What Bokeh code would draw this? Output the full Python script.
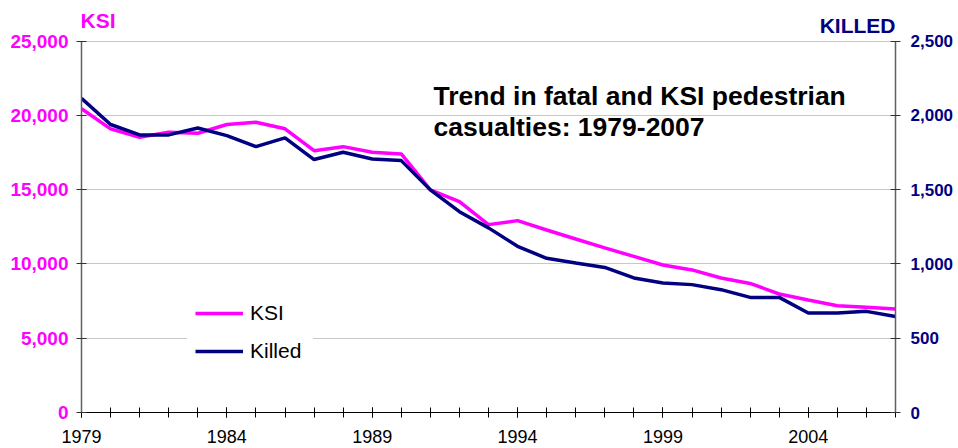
from bokeh.plotting import figure
from bokeh.models import (Range1d, LinearAxis, FixedTicker, NumeralTickFormatter,
                          Label, Legend, LegendItem)
from bokeh.embed import file_html
from bokeh.resources import INLINE

years = list(range(1979, 2008))
ksi = [20450, 19100, 18530, 18870, 18800, 19390, 19540, 19100, 17630, 17900,
       17520, 17410, 14990, 14200, 12650, 12920, 12290, 11680, 11080, 10510,
       9930, 9600, 9060, 8690, 7980, 7570, 7190, 7080, 6970]
killed = [2116, 1939, 1869, 1869, 1916, 1864, 1790, 1849, 1703, 1752,
          1707, 1696, 1499, 1352, 1243, 1119, 1038, 1007, 977, 906,
          872, 861, 827, 775, 775, 670, 670, 681, 647]
ksi_ticks = [0, 5000, 10000, 15000, 20000, 25000]
killed_ticks = [0, 500, 1000, 1500, 2000, 2500]
year_labels = [1979, 1984, 1989, 1994, 1999, 2004]
KSI_MAX = 25000
KILLED_MAX = 2500

FONT = "Liberation Sans"
MAGENTA = "#FF00FF"
NAVY = "#000080"

W, H = 957, 448
BL, BR, BT, BB = 81, 62, 6, 36
AXIS_TOP = 40.7  # pixel row of the top gridline
PLOT_H = H - BB - AXIS_TOP
FRAME_H = H - BB - BT
ext = FRAME_H / PLOT_H  # extra headroom inside the frame for the header texts

p = figure(width=W, height=H, x_range=Range1d(1979, 2007),
           y_range=Range1d(0, KSI_MAX * ext), output_backend="svg",
           toolbar_location=None, min_border_left=BL, min_border_right=BR,
           min_border_top=BT, min_border_bottom=BB)
p.title.visible = False
p.extra_y_ranges = {"killed": Range1d(0, KILLED_MAX * ext)}
p.outline_line_color = None
p.xgrid.visible = False
p.ygrid.grid_line_color = "#c8c8c8"
p.ygrid.ticker = FixedTicker(ticks=ksi_ticks)

# left axis
ya = p.yaxis[0]
ya.ticker = FixedTicker(ticks=ksi_ticks)
ya.bounds = (0, KSI_MAX)
ya.formatter = NumeralTickFormatter(format="0,0")
ya.major_label_text_color = MAGENTA
ya.major_label_text_font = FONT
ya.major_label_text_font_style = "bold"
ya.major_label_text_font_size = "19px"
ya.major_label_standoff = 8
ya.axis_line_color = "#606060"
ya.axis_line_width = 1.5
ya.major_tick_in = 5
ya.major_tick_out = 5
ya.major_tick_line_color = "#333333"
ya.minor_tick_line_color = None

# right axis
ra = LinearAxis(y_range_name="killed", ticker=FixedTicker(ticks=killed_ticks),
                formatter=NumeralTickFormatter(format="0,0"))
ra.bounds = (0, KILLED_MAX)
ra.major_label_text_color = NAVY
ra.major_label_text_font = FONT
ra.major_label_text_font_style = "bold"
ra.major_label_text_font_size = "17px"
ra.major_label_standoff = 10
ra.axis_line_color = "#606060"
ra.axis_line_width = 1.5
ra.major_tick_in = 5
ra.major_tick_out = 5
ra.major_tick_line_color = "#333333"
ra.minor_tick_line_color = None
p.add_layout(ra, "right")

# bottom axis
xa = p.xaxis[0]
xa.ticker = FixedTicker(ticks=year_labels, minor_ticks=years)
xa.major_label_text_color = "black"
xa.major_label_text_font = FONT
xa.major_label_text_font_size = "18px"
xa.major_label_standoff = 12
xa.axis_line_color = "black"
xa.major_tick_in = 5
xa.major_tick_out = 5
xa.minor_tick_in = 5
xa.minor_tick_out = 5
xa.major_tick_line_color = "black"
xa.minor_tick_line_color = "black"

r1 = p.line(years, ksi, line_color=MAGENTA, line_width=3.5)
r2 = p.line(years, killed, line_color=NAVY, line_width=3.5, y_range_name="killed")

legend = Legend(items=[LegendItem(label="KSI", renderers=[r1]),
                       LegendItem(label="Killed", renderers=[r2])],
                location=(106, 41), glyph_width=48, glyph_height=24,
                label_height=24, label_width=55, label_standoff=7, spacing=14,
                padding=8, margin=0, label_text_font=FONT,
                label_text_font_size="21px", label_text_color="black",
                background_fill_color="white", background_fill_alpha=1.0,
                border_line_alpha=0)
p.add_layout(legend)

p.add_layout(Label(x=1979, y=KSI_MAX, x_offset=-1, y_offset=20.4,
                   text="KSI", text_align="left", text_baseline="middle",
                   text_font=FONT, text_font_style="bold",
                   text_font_size="21px", text_color=MAGENTA))
p.add_layout(Label(x=2007, y=KSI_MAX, x_offset=0, y_offset=15.7,
                   text="KILLED", text_align="right", text_baseline="middle",
                   text_font=FONT, text_font_style="bold",
                   text_font_size="21px", text_color=NAVY))
p.add_layout(Label(x=1979, y=KSI_MAX, x_offset=352, y_offset=-54.3,
                   text="Trend in fatal and KSI pedestrian",
                   text_align="left", text_baseline="middle",
                   text_font=FONT, text_font_style="bold",
                   text_font_size="26.5px", text_color="black"))
p.add_layout(Label(x=1979, y=KSI_MAX, x_offset=352, y_offset=-86,
                   text="casualties: 1979-2007",
                   text_align="left", text_baseline="middle",
                   text_font=FONT, text_font_style="bold",
                   text_font_size="26.5px", text_color="black"))

open("out.html", "w").write(file_html(p, INLINE))
